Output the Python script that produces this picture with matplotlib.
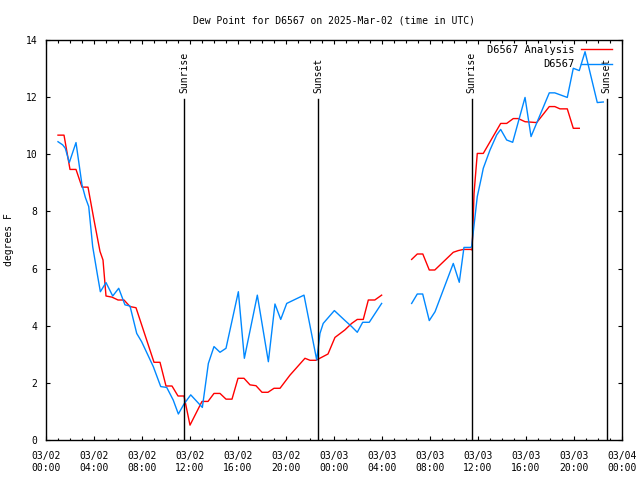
import numpy as np
import matplotlib
matplotlib.use("Agg")
import matplotlib.pyplot as plt
from matplotlib.ticker import MultipleLocator

# hours since 2025-03-02 00:00 UTC
analysis_hours = [1.0, 1.5, 2.0, 2.5, 3.0, 3.5, 4.0, 4.5, 4.75, 5.0, 5.5, 6.0, 6.5, 7.0, 7.5,
                  9.0, 9.5, 10.0, 10.5, 11.0, 11.5, 12.0, 13.0, 13.5, 14.0, 14.5, 15.0, 15.5,
                  16.0, 16.5, 17.0, 17.5, 18.0, 18.5, 19.0, 19.5, 20.33, 21.58, 22.0, 22.5,
                  23.5, 24.08, 24.9, 25.47, 25.94, 26.44, 26.86, 27.4, 27.97, 29.0,
                  30.47, 30.94, 31.4, 31.94, 32.4, 33.94, 34.36, 34.78, 35.4, 35.5, 35.56,
                  35.67, 35.94, 36.44, 37.89, 38.39, 38.94, 39.36, 39.92, 40.89, 41.94, 42.4,
                  42.83, 43.44, 43.94, 44.44]
analysis_dewpt = [10.67, 10.67, 9.47, 9.47, 8.85, 8.85, 7.7, 6.6, 6.3, 5.04, 5.0, 4.9, 4.9, 4.67, 4.63,
                  2.72, 2.72, 1.89, 1.89, 1.54, 1.54, 0.52, 1.35, 1.35, 1.63, 1.63, 1.43, 1.43,
                  2.16, 2.16, 1.93, 1.9, 1.67, 1.67, 1.81, 1.81, 2.27, 2.86, 2.79, 2.79,
                  3.01, 3.59, 3.85, 4.08, 4.22, 4.22, 4.9, 4.9, 5.07, np.nan,
                  6.32, 6.51, 6.51, 5.95, 5.95, 6.57, 6.63, 6.67, 6.67, 6.65, 7.23,
                  8.63, 10.03, 10.03, 11.08, 11.08, 11.25, 11.25, 11.14, 11.11, 11.67, 11.67,
                  11.59, 11.59, 10.91, 10.91]

obs_hours = [1.0, 1.39, 1.61, 1.94, 2.5, 3.0, 3.28, 3.56, 3.89, 4.31, 4.53, 5.0, 5.56, 6.06,
             6.58, 7.0, 7.56, 7.97, 8.94, 9.56, 10.06, 10.6, 11.03, 11.5, 12.06, 13.03, 13.53,
             14.0, 14.5, 15.0, 16.03, 16.53, 17.61, 18.53, 19.08, 19.56, 20.06, 20.75, 21.5,
             22.56, 22.83, 23.1, 24.03, 24.92, 25.47, 25.94, 26.39, 26.94, 27.97, 29.0,
             30.47, 30.94, 31.39, 31.94, 32.42, 33.94, 34.44, 34.83, 35.39, 35.47, 35.94,
             36.3, 36.44, 37.0, 37.56, 37.89, 38.39, 38.89, 39.92, 40.42, 41.94, 42.4, 43.44,
             43.94, 44.44, 44.92, 45.94, 46.44]
obs_dewpt = [10.44, 10.33, 10.21, 9.71, 10.41, 8.93, 8.49, 8.17, 6.77, 5.72, 5.19, 5.51, 5.04, 5.31,
             4.73, 4.69, 3.73, 3.44, 2.57, 1.87, 1.84, 1.4, 0.91, 1.26, 1.58, 1.14, 2.68,
             3.27, 3.07, 3.21, 5.19, 2.86, 5.07, 2.74, 4.76, 4.22, 4.78, 4.92, 5.07,
             2.8, 3.73, 4.08, 4.53, 4.18, 3.97, 3.77, 4.12, 4.12, 4.78, np.nan,
             4.78, 5.11, 5.11, 4.18, 4.49, 6.18, 5.52, 6.74, 6.74, 6.77, 8.52,
             9.22, 9.51, 10.15, 10.68, 10.87, 10.5, 10.42, 11.99, 10.62, 12.15, 12.15, 11.99,
             13.01, 12.93, 13.59, 11.81, 11.83]

sun_events = ["Sunrise", "Sunset", "Sunrise", "Sunset"]
sun_hours = [11.5, 22.69, 35.47, 46.72]

tick_hours = list(range(0, 49, 4))
tick_labels = ["03/02\n00:00", "03/02\n04:00", "03/02\n08:00", "03/02\n12:00", "03/02\n16:00",
               "03/02\n20:00", "03/03\n00:00", "03/03\n04:00", "03/03\n08:00", "03/03\n12:00",
               "03/03\n16:00", "03/03\n20:00", "03/04\n00:00"]

plt.rcParams['font.family'] = ['DejaVu Sans Mono']
fs = 7

fig = plt.figure(figsize=(6.4, 4.8), dpi=100)
ax = fig.add_axes([46 / 640, 40 / 480, 576 / 640, 400 / 480])

ax.plot(analysis_hours, analysis_dewpt, color='#ff0000', lw=1.0, label='D6567 Analysis')
ax.plot(obs_hours, obs_dewpt, color='#0088ff', lw=1.0, label='D6567')

for name, h in zip(sun_events, sun_hours):
    ax.plot([h, h], [0, 11.95], color='black', lw=1.0)
    ax.text(h, 12.15, name, rotation=90, ha='center', va='bottom', fontsize=fs)

ax.set_xlim(0, 48)
ax.set_ylim(0, 14)
ax.set_xticks(tick_hours)
ax.set_xticklabels(tick_labels)
ax.xaxis.set_minor_locator(MultipleLocator(1))
ax.set_yticks(range(0, 15, 2))
ax.tick_params(which='major', direction='in', length=3.2, width=0.8, top=True, right=True,
               labelsize=fs, pad=6)
ax.tick_params(axis='x', which='major', pad=8)
ax.tick_params(which='minor', direction='in', length=1.8, width=0.8, top=True, right=True)
for sp in ax.spines.values():
    sp.set_linewidth(1.0)

ax.set_ylabel('degrees F', fontsize=fs)
ax.yaxis.set_label_coords(-0.056, 0.5)
ax.set_title('Dew Point for D6567 on 2025-Mar-02 (time in UTC)', fontsize=fs, pad=12)

ax.legend(loc='upper right', bbox_to_anchor=(0.985, 0.99), frameon=False, markerfirst=False,
          fontsize=fs + 0.5, handlelength=3.0, handletextpad=0.6, labelspacing=0.4,
          borderaxespad=0.0, borderpad=0.1)

fig.savefig('out.png', dpi=100)
